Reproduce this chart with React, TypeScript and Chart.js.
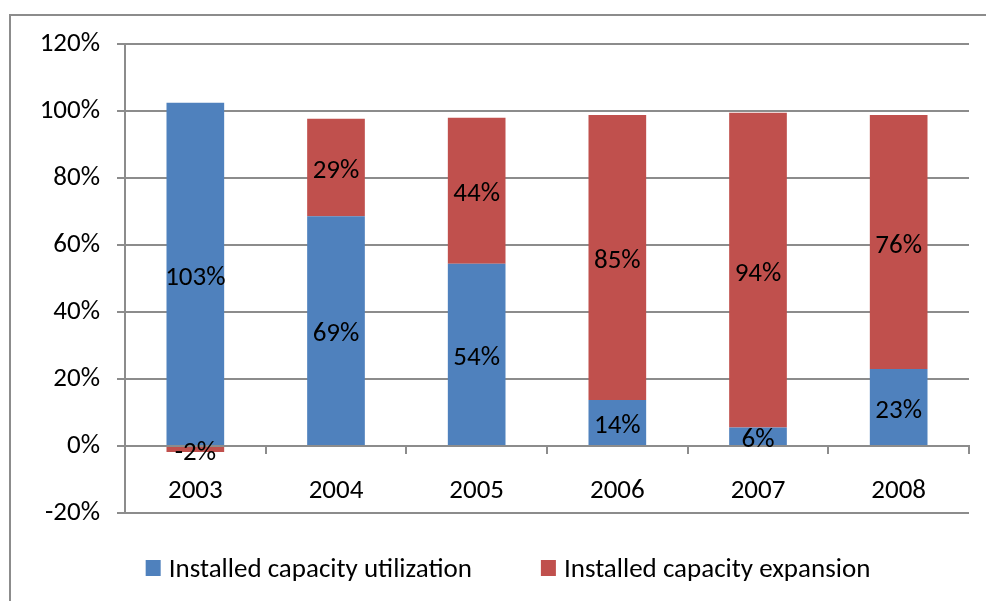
import React, { useEffect, useRef } from 'react';
import { Chart, registerables } from 'chart.js';

Chart.register(...registerables);

const years = ['2003', '2004', '2005', '2006', '2007', '2008'];
const utilization = [102.5, 68.6, 54.4, 13.7, 5.5, 23.0];
const expansion = [-1.8, 29.1, 43.6, 85.1, 94.0, 75.8];
const seriesNames = ['Installed capacity utilization', 'Installed capacity expansion'];
const seriesColors = ['#4F81BD', '#C0504D'];
const yMin = -20;
const yMax = 120;
const yStep = 20;

const FONT = 'Carlito, Lato, "Open Sans", sans-serif';
const FS = 27;
const GRID = '#8c8c8c';

const labelPlugin = {
  id: 'segLabels',
  afterDraw(chart: any) {
    const ctx = chart.ctx;
    ctx.save();
    ctx.font = `${FS}px ${FONT}`;
    ctx.fillStyle = '#000';
    ctx.textAlign = 'center';
    ctx.textBaseline = 'middle';
    chart.data.datasets.forEach((ds: any, di: number) => {
      const meta = chart.getDatasetMeta(di);
      meta.data.forEach((el: any, i: number) => {
        const v = ds.data[i];
        const cy = (el.y + el.base) / 2;
        ctx.fillText(Math.round(v) + '%', el.x, cy + 4);
      });
    });
    ctx.restore();
  },
};

const legendPlugin = {
  id: 'customLegend',
  afterDraw(chart: any) {
    const ctx = chart.ctx;
    ctx.save();
    ctx.font = `${FS}px ${FONT}`;
    ctx.textBaseline = 'middle';
    ctx.textAlign = 'left';
    const box = 15;
    const gapText = 8;
    const gapItem = 69;
    const ds = chart.data.datasets;
    const widths = ds.map((d: any) => ctx.measureText(d.label).width);
    const total = widths.reduce((a: number, w: number) => a + box + gapText + w, 0) + gapItem * (ds.length - 1);
    let x = 508 - total / 2;
    const y = chart.chartArea.bottom + 55;
    ds.forEach((d: any, i: number) => {
      ctx.fillStyle = d.backgroundColor;
      ctx.fillRect(x, y - 8, box, 16);
      ctx.fillStyle = '#000';
      ctx.fillText(d.label, x + box + gapText, y + 2);
      x += box + gapText + widths[i] + gapItem;
    });
    ctx.restore();
  },
};

export default function App() {
  const ref = useRef<HTMLCanvasElement | null>(null);

  useEffect(() => {
    if (!ref.current) return;
    Chart.defaults.font.family = FONT;
    Chart.defaults.font.size = FS;
    Chart.defaults.color = '#000';
    const chart = new Chart(ref.current, {
      type: 'bar',
      data: {
        labels: years,
        datasets: [
          { label: seriesNames[0], data: utilization, backgroundColor: seriesColors[0], borderWidth: 0 },
          { label: seriesNames[1], data: expansion, backgroundColor: seriesColors[1], borderWidth: 0 },
        ],
      },
      options: {
        responsive: false,
        animation: false,
        layout: { padding: { left: 0, right: 17, top: 44, bottom: 88 } },
        datasets: { bar: { categoryPercentage: 1, barPercentage: 0.41 } },
        plugins: {
          legend: { display: false },
          tooltip: { enabled: false },
          title: { display: false },
        },
        scales: {
          x: {
            stacked: true,
            position: { y: 0 } as any,
            z: 1,
            grid: {
              display: true,
              offset: true,
              drawOnChartArea: false,
              drawTicks: true,
              tickLength: 7,
              color: GRID,
              lineWidth: 2,
            },
            border: { display: true, color: GRID, width: 2 },
            ticks: { font: { size: FS, family: FONT }, color: '#000', padding: 22, maxRotation: 0 },
          },
          y: {
            stacked: true,
            min: yMin,
            max: yMax,
            afterFit: (scale: any) => { scale.width = 125; },
            grid: { color: GRID, lineWidth: 2, tickLength: 8, drawTicks: true },
            border: { display: true, color: GRID, width: 2 },
            ticks: {
              stepSize: yStep,
              font: { size: FS, family: FONT },
              color: '#000',
              padding: 17,
              callback: (v: any) => v + '%',
            },
          },
        },
      },
      plugins: [labelPlugin, legendPlugin],
    });
    return () => chart.destroy();
  }, []);

  return (
    <div style={{ position: 'fixed', left: 0, top: 0, width: 986, height: 601, overflow: 'hidden', background: '#fff' }}>
      <div style={{ position: 'absolute', left: 9, top: 14, width: 1100, height: 800, border: '2px solid #8c8c8c', boxSizing: 'border-box' }} />
      <canvas ref={ref} width={986} height={601} style={{ position: 'absolute', left: 0, top: 0, width: 986, height: 601 }} />
    </div>
  );
}
